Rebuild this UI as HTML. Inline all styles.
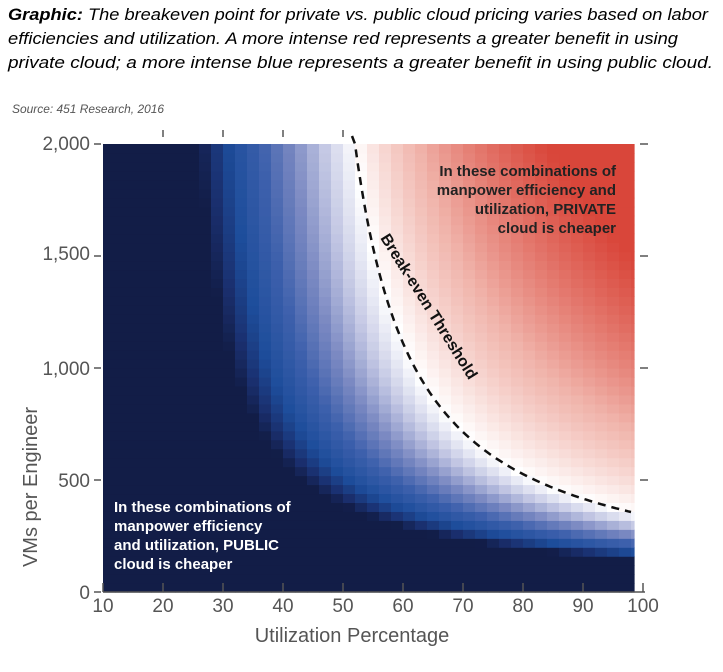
<!DOCTYPE html>
<html><head><meta charset="utf-8"><style>
body{margin:0;background:#fff;width:723px;height:672px;overflow:hidden}
svg{display:block}
</style></head><body>
<svg id="s" width="723" height="672" xmlns="http://www.w3.org/2000/svg" font-family="Liberation Sans, sans-serif">
<text x="8" y="20" font-size="17" font-style="italic" fill="#000" textLength="700" lengthAdjust="spacingAndGlyphs"><tspan font-weight="bold">Graphic:</tspan> The breakeven point for private vs. public cloud pricing varies based on labor</text>
<text x="8" y="44" font-size="17" font-style="italic" fill="#000" textLength="670" lengthAdjust="spacingAndGlyphs">efficiencies and utilization. A more intense red represents a greater benefit in using</text>
<text x="8" y="68" font-size="17" font-style="italic" fill="#000" textLength="705" lengthAdjust="spacingAndGlyphs">private cloud; a more intense blue represents a greater benefit in using public cloud.</text>
<text x="12" y="113" font-size="12" font-style="italic" fill="#555" textLength="152" lengthAdjust="spacingAndGlyphs">Source: 451 Research, 2016</text>
<g id="hm"></g>
<g id="ax" stroke="#555" stroke-width="1.5"></g>
<g font-size="19" fill="#555" text-anchor="end">
<text x="90" y="150">2,000</text><text x="90" y="260">1,500</text><text x="90" y="375">1,000</text><text x="90" y="487">500</text><text x="90" y="599">0</text>
</g>
<g id="xl" font-size="19" fill="#555" text-anchor="middle"></g>
<text x="352" y="642" font-size="20" fill="#555" text-anchor="middle">Utilization Percentage</text>
<text transform="translate(37,487) rotate(-90)" font-size="20" fill="#555" text-anchor="middle">VMs per Engineer</text>
<path id="be" fill="none" stroke="#111" stroke-width="2.5" stroke-dasharray="8,6"/>
<g font-size="15" font-weight="bold" fill="#222" text-anchor="end">
<text x="616" y="176">In these combinations of</text>
<text x="616" y="195">manpower efficiency and</text>
<text x="616" y="214">utilization, PRIVATE</text>
<text x="616" y="233">cloud is cheaper</text>
</g>
<g font-size="15" font-weight="bold" fill="#fff">
<text x="114" y="512">In these combinations of</text>
<text x="114" y="531">manpower efficiency</text>
<text x="114" y="550">and utilization, PUBLIC</text>
<text x="114" y="569">cloud is cheaper</text>
</g>
<text transform="translate(380,238) rotate(58)" font-size="16" font-weight="bold" fill="#111">Break-even Threshold</text>
</svg>
<script>
var NS="http://www.w3.org/2000/svg";
function X(u){return 103+(u-10)*6.0;}
function Y(v){return 592-v*0.224;}
function vbe(u){return 20000/(u-42);}
function hex(c){return [parseInt(c.substr(1,2),16),parseInt(c.substr(3,2),16),parseInt(c.substr(5,2),16)];}
function interp(stops,t){t=Math.max(0,Math.min(1,t));for(var i=1;i<stops.length;i++){if(t<=stops[i][0]){var a=stops[i-1],b=stops[i];var f=(t-a[0])/(b[0]-a[0]);var ca=hex(a[1]),cb=hex(b[1]);return "rgb("+[0,1,2].map(function(k){return Math.round(ca[k]+(cb[k]-ca[k])*f)}).join(",")+")";}}return stops[stops.length-1][1];}
var blue=[[0,"#121d47"],[0.08,"#1a2f6e"],[0.2,"#1d4d9b"],[0.4,"#3d60ac"],[0.6,"#7b89c2"],[0.8,"#c4c8e4"],[1,"#ffffff"]];
var red=[[0,"#ffffff"],[0.5,"#f0b3aa"],[1,"#d9463a"]];
var g=document.getElementById("hm");
var du=2,dv=40;
for(var u=10;u<98.5;u+=du){for(var v=0;v<2000;v+=dv){var uc=u+du/2,vc=v+dv/2;var c;
var ube=42+20000/vc, ud=20.2+11600/vc;
if(uc<ube){var t=(uc-ud)/(ube-ud);c=interp(blue,t);}
else{var t2=Math.log(vc/vbe(uc))/Math.log(2000/357)*1.2;c=interp(red,t2);}
var r=document.createElementNS(NS,"rect");var x0=X(u),x1=Math.min(X(u+du),X(98.5));
r.setAttribute("x",x0);r.setAttribute("y",Y(v+dv));r.setAttribute("width",x1-x0+0.6);r.setAttribute("height",Y(v)-Y(v+dv)+0.6);r.setAttribute("fill",c);g.appendChild(r);}}
var ax=document.getElementById("ax"),xl=document.getElementById("xl");
function ln(a,b,c,d){var l=document.createElementNS(NS,"line");l.setAttribute("x1",a);l.setAttribute("y1",b);l.setAttribute("x2",c);l.setAttribute("y2",d);ax.appendChild(l);}
ln(103,592,645,592);
for(var k=10;k<=100;k+=10){var x=X(k);ln(x,583,x,592);var t=document.createElementNS(NS,"text");t.setAttribute("x",x);t.setAttribute("y",612);t.textContent=k;xl.appendChild(t);
if(k>10&&k<=50)ln(x,130,x,137);}
[2000,1500,1000,500,0].forEach(function(v){ln(94,Y(v),101,Y(v));if(v>0)ln(640,Y(v),648,Y(v));});
var p="";for(var u=52;u<=98.3;u+=0.5){p+=(p?"L":"M")+X(u).toFixed(1)+","+Y(vbe(u)).toFixed(1);}
p="M352,136L"+p.substr(1);document.getElementById("be").setAttribute("d",p);
</script>
</body></html>
